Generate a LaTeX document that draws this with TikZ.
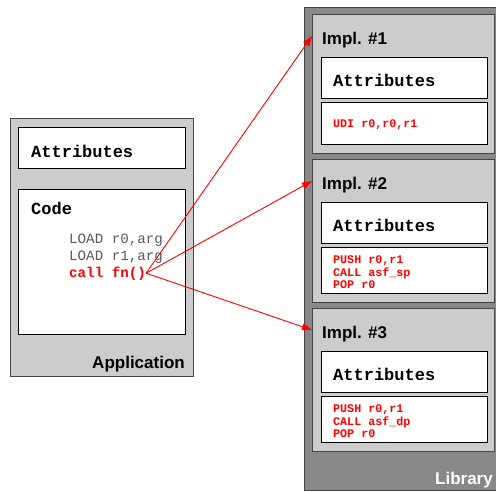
\documentclass[tikz,border=0pt]{standalone}
\usepackage{fontspec}
\setmainfont{Liberation Sans}
\setmonofont{Liberation Mono}
\usetikzlibrary{arrows.meta}

\definecolor{lightbox}{HTML}{CCCCCC}
\definecolor{darkbox}{HTML}{888888}
\definecolor{edgegray}{HTML}{444444}

\tikzset{
    panel/.style={draw=edgegray, line width=1pt},
    whitebox/.style={draw=black, fill=white, line width=0.9pt},
    title/.style={font=\fontsize{17}{17}\selectfont\bfseries, inner sep=0pt, anchor=base west},
    attr/.style={font=\fontsize{17}{17}\selectfont\ttfamily\bfseries, inner sep=0pt, anchor=base west},
    asm/.style={font=\fontsize{14.2}{17}\selectfont\ttfamily, inner sep=0pt, anchor=base west},
    libasm/.style={font=\fontsize{11.7}{12.5}\selectfont\ttfamily\bfseries, text=red,
        align=left, inner sep=0pt, anchor=base west},
    link/.style={red, line width=0.9pt, -{Triangle[length=10pt,width=7pt]}}
}

\begin{document}
\begin{tikzpicture}[x=1pt, y=-1pt]
    \useasboundingbox (0,0) rectangle (496,493);

    % Application
    \draw[panel, fill=lightbox] (10,118) rectangle (193,376);
    \draw[whitebox] (18.5,127) rectangle (185,168);
    \node[attr] (appattr) at (31,157) {Attributes};
    \draw[whitebox] (18.5,189) rectangle (185,334);
    \node[attr] (code) at (31,214) {Code};
    \node[asm, text=black!65] (load0) at (69,243) {LOAD r0,arg};
    \node[asm, text=black!65] (load1) at (69,260) {LOAD r1,arg};
    \node[asm, text=red, font=\fontsize{14.2}{17}\selectfont\ttfamily\bfseries] (call) at (69,277) {call fn()};
    \node[title, anchor=base east] (app) at (185,368) {Application};

    % Library
    \draw[panel, fill=darkbox] (304,7) rectangle (499,490);
    \node[title, anchor=base east, text=white] (lib) at (493,484) {Library};

    % Implementations (last baseline of the code sits at \b)
    \foreach \n/\y/\h/\b/\body in {1/14/130/113/{UDI r0,r0,r1},
                                   2/159/134/129.5/{PUSH r0,r1\\CALL asf\_sp\\POP r0},
                                   3/308/134/129.5/{PUSH r0,r1\\CALL asf\_dp\\POP r0}} {
        \draw[panel, fill=lightbox] (312,\y) rectangle (494.5,\y+\h+9);
        \node[title] (impl\n) at (322,\y+30) {Impl. \#\n};
        \coordinate (in\n) at (312,\y+22);
        \draw[whitebox] (321,\y+43) rectangle (487,\y+84);
        \node[attr] (attr\n) at (333,\y+72) {Attributes};
        \draw[whitebox] (321,\y+88) rectangle (487,\y+\h);
        \node[libasm] (body\n) at (333,\y+\b) {\body};
    }

    % Calls
    \draw[link] (call.east) -- (in1);
    \draw[link] (call.east) -- (in2);
    \draw[link] (call.east) -- (in3);
\end{tikzpicture}
\end{document}
